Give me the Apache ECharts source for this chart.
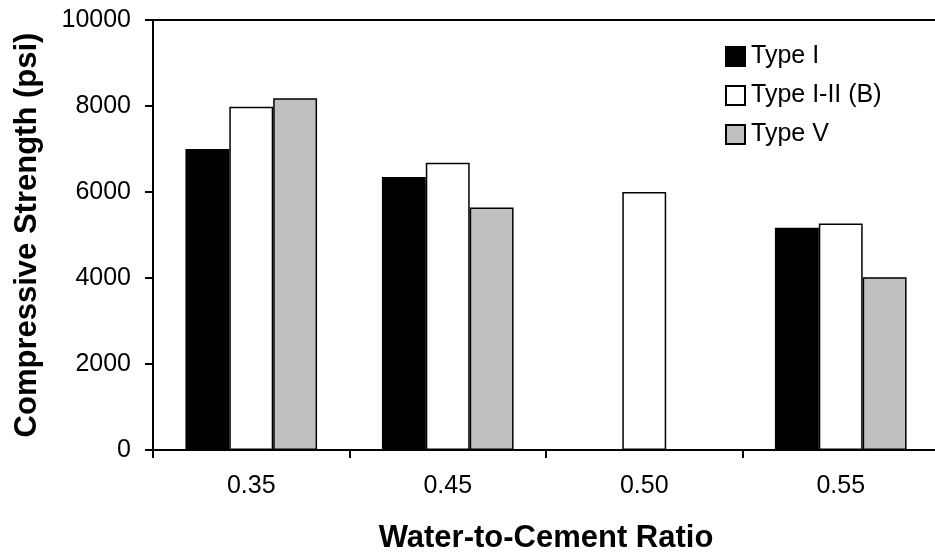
<!DOCTYPE html>
<html>
<head>
<meta charset="utf-8">
<script src="https://cdn.jsdelivr.net/npm/echarts@6/dist/echarts.min.js"></script>
<style>html,body{margin:0;padding:0;background:#fff;}#c{width:935px;height:557px;}</style>
</head>
<body>
<div id="c"></div>
<script>
const categories = ['0.35', '0.45', '0.50', '0.55'];
const typeI = [7000, 6350, null, 5170];
const typeIIIB = [7980, 6680, 6000, 5270];
const typeV = [8180, 5640, null, 4020];
const seriesNames = ['Type I', 'Type I-II (B)', 'Type V'];
const yTicks = [0, 2000, 4000, 6000, 8000, 10000];

const font = 'Arial, "Liberation Sans", sans-serif';
const chart = echarts.init(document.getElementById('c'), null, {renderer: 'canvas'});
const barStyle = (c) => ({color: c, borderColor: '#000', borderWidth: 1.5});
chart.setOption({
  animation: false,
  backgroundColor: '#fff',
  grid: {left: 153, right: -4, top: 20, bottom: 107, containLabel: false, outerBoundsMode: 'none'},
  legend: {
    orient: 'vertical', left: 720, top: 39,
    itemWidth: 19, itemHeight: 19, itemGap: 14,
    textStyle: {fontFamily: font, fontSize: 25, color: '#000', padding: [0, 0, 0, 1]},
    data: seriesNames.map(n => ({name: n, icon: 'rect'}))
  },
  xAxis: [{
    type: 'category', data: categories, position: 'bottom',
    axisLine: {lineStyle: {color: '#000', width: 2}},
    axisTick: {show: true, length: 8, lineStyle: {color: '#000', width: 2}},
    axisLabel: {fontFamily: font, fontSize: 25, color: '#000', margin: 24},
    name: 'Water-to-Cement Ratio', nameLocation: 'middle', nameGap: 73,
    nameTextStyle: {fontFamily: font, fontSize: 31, fontWeight: 'bold', color: '#000'}
  }, {
    type: 'category', data: categories, position: 'top',
    axisLine: {show: true, lineStyle: {color: '#000', width: 2}},
    axisTick: {show: false}, axisLabel: {show: false}
  }],
  yAxis: {
    type: 'value', min: 0, max: 10000, interval: 2000,
    axisLine: {show: true, lineStyle: {color: '#000', width: 2}},
    axisTick: {show: true, length: 8, lineStyle: {color: '#000', width: 2}},
    splitLine: {show: false},
    axisLabel: {fontFamily: font, fontSize: 25, color: '#000', margin: 22,
      formatter: v => yTicks.includes(v) ? String(v) : ''},
    name: 'Compressive Strength (psi)', nameLocation: 'middle', nameGap: 110,
    nameTextStyle: {fontFamily: font, fontSize: 31, fontWeight: 'bold', color: '#000'}
  },
  series: [
    {name: seriesNames[0], type: 'bar', data: typeI, itemStyle: barStyle('#000'), barGap: '0%', barCategoryGap: '33%'},
    {name: seriesNames[1], type: 'bar', data: typeIIIB, itemStyle: barStyle('#fff'), barGap: '0%', barCategoryGap: '33%'},
    {name: seriesNames[2], type: 'bar', data: typeV, itemStyle: barStyle('#c0c0c0'), barGap: '0%', barCategoryGap: '33%'}
  ]
});
</script>
</body>
</html>
